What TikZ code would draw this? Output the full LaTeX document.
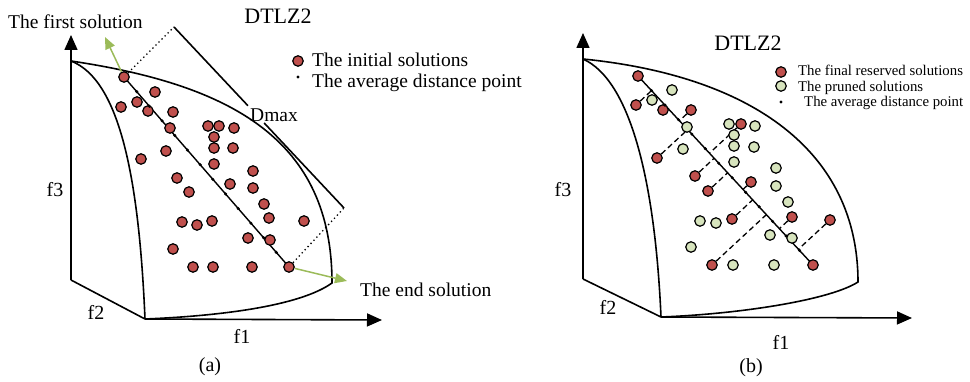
\documentclass[tikz,border=0pt]{standalone}
\usepackage{fontspec}
\setmainfont{Liberation Serif}
\usetikzlibrary{arrows.meta,calc,backgrounds}
\definecolor{solred}{HTML}{C0504D}
\definecolor{prungreen}{HTML}{D7E4BD}
\definecolor{arrgreen}{HTML}{9BBB59}

\begin{document}
\begin{tikzpicture}[x=1pt,y=-1pt,
    initial/.style={circle,draw,line width=1.2pt,fill=solred,minimum size=10.5pt,inner sep=0pt},
    pruned/.style={initial,fill=prungreen},
    avgpt/.style={circle,fill=black,minimum size=3.4pt,inner sep=0pt},
    surf/.style={line width=1.6pt},
    axis/.style={line width=1.6pt,-{Triangle[length=15pt,width=13pt]}},
    diag/.style={line width=1.4pt},
    prune/.style={line width=1.3pt,dash pattern=on 5.5pt off 3.5pt},
    gap/.style={line width=1.3pt,dash pattern=on 1.3pt off 3pt},
    pointer/.style={line width=1.5pt,draw=arrgreen,-{Triangle[length=12pt,width=10pt,fill=arrgreen]}},
    lab/.style={inner sep=0pt,anchor=base west,font=\fontsize{19.5}{22}\selectfont},
    key/.style={inner sep=0pt,anchor=base west,font=\fontsize{14.8}{17}\selectfont},
    axlab/.style={inner sep=0pt,font=\fontsize{20}{22}\selectfont},
    title/.style={inner sep=0pt,font=\fontsize{22}{24}\selectfont}
]
\useasboundingbox (0,0) rectangle (970,382);

% (a)
\coordinate (topa)  at (71,61);
\coordinate (backa) at (71,280);
\coordinate (bota)  at (145,319);
\coordinate (f3enda) at (71,35);
\coordinate (f1enda) at (382,320);
\draw[axis] (backa) -- (f3enda);
\draw[axis] (bota) -- (f1enda);
\draw[surf] (backa) -- (bota);
\draw[surf] (topa) .. controls (120,80) and (139,179) .. (bota);
\draw[surf] (topa) .. controls (232,85) and (332,140) .. (332,283)
                   .. controls (300,306) and (220,316) .. (bota);

\node[initial] (a1)  at (124,77)  {};
\node[initial] (a2)  at (155,92)  {};
\node[initial] (a3)  at (121,107) {};
\node[initial] (a4)  at (137,102) {};
\node[initial] (a5)  at (148,111) {};
\node[initial] (a6)  at (173,112) {};
\node[initial] (a7)  at (170,128) {};
\node[initial] (a8)  at (208,126) {};
\node[initial] (a9)  at (219,126) {};
\node[initial] (a10) at (234,128) {};
\node[initial] (a11) at (214,137) {};
\node[initial] (a12) at (214,148) {};
\node[initial] (a13) at (233,148) {};
\node[initial] (a14) at (166,151) {};
\node[initial] (a15) at (141,159) {};
\node[initial] (a16) at (214,164) {};
\node[initial] (a17) at (253,171) {};
\node[initial] (a18) at (177,178) {};
\node[initial] (a19) at (230,184) {};
\node[initial] (a20) at (189,192) {};
\node[initial] (a21) at (253,188) {};
\node[initial] (a22) at (264,204) {};
\node[initial] (a23) at (182,222) {};
\node[initial] (a24) at (197,225) {};
\node[initial] (a25) at (212,221) {};
\node[initial] (a26) at (269,218) {};
\node[initial] (a27) at (304,221) {};
\node[initial] (a28) at (248,238) {};
\node[initial] (a29) at (270,240) {};
\node[initial] (a30) at (173,249) {};
\node[initial] (a31) at (193,267) {};
\node[initial] (a32) at (213,267) {};
\node[initial] (a33) at (252,267) {};
\node[initial] (a34) at (289,267) {};
\foreach \k in {1,...,12}
  \node[avgpt] (ma\k) at ($(a1)!\k/13!(a34)$) {};

\coordinate (dmtop) at (174,27);
\coordinate (dmbot) at (344,208);
\coordinate (fsend) at (105,37);
\coordinate (esend) at (347,281);
\begin{scope}[on background layer]
\draw[diag] (a1.center) -- (a34.center);
\end{scope}
\draw[surf] (dmtop) -- ($(dmtop)!0.435!(dmbot)$);
\draw[surf] ($(dmtop)!0.53!(dmbot)$) -- (dmbot);
\draw[gap] (a1) -- (dmtop);
\draw[gap] (a34) -- (dmbot);
\draw[pointer] (a1) -- (fsend);
\draw[pointer] (a34) -- (esend);

\node[lab] (firsta) at (8,29) {The first solution};
\node[lab] (enda) at (360,297) {The end solution};
\node[lab] (dmax) at (250,122) {Dmax};
\node[title] (dtlza) at (278,16) {DTLZ2};
\node[initial] (keya1) at (298,61) {};
\node[lab] (keya1t) at (312,67) {The initial solutions};
\node[avgpt] (keya2) at (298,77) {};
\node[lab] (keya2t) at (312,88) {The average distance point};
\node[axlab] (f3a) at (55,190) {f3};
\node[axlab] (f2a) at (96,312) {f2};
\node[axlab] (f1a) at (242,336) {f1};
\node[axlab] (capa) at (210,367) {(a)};

% (b)
\coordinate (topb)  at (583,59);
\coordinate (backb) at (583,279);
\coordinate (botb)  at (661,317);
\coordinate (f3endb) at (583,33);
\coordinate (f1endb) at (912,318);
\draw[axis] (backb) -- (f3endb);
\draw[axis] (botb) -- (f1endb);
\draw[surf] (backb) -- (botb);
\draw[surf] (topb) .. controls (630,80) and (655,180) .. (botb);
\draw[surf] (topb) .. controls (753,76) and (858,152) .. (858,282)
                   .. controls (830,300) and (740,314) .. (botb);

\node[initial] (r1)  at (638,76)  {};
\node[initial] (r2)  at (636,105) {};
\node[initial] (r3)  at (663,110) {};
\node[initial] (r4)  at (691,110) {};
\node[initial] (r5)  at (741,124) {};
\node[initial] (r6)  at (657,158) {};
\node[initial] (r7)  at (695,176) {};
\node[initial] (r8)  at (708,191) {};
\node[initial] (r9)  at (751,182) {};
\node[initial] (r10) at (732,219) {};
\node[initial] (r11) at (792,217) {};
\node[initial] (r12) at (830,220) {};
\node[initial] (r13) at (712,265) {};
\node[initial] (r14) at (813,265) {};

\node[pruned] (p1)  at (672,90)  {};
\node[pruned] (p2)  at (652,100) {};
\node[pruned] (p3)  at (687,127) {};
\node[pruned] (p4)  at (729,124) {};
\node[pruned] (p5)  at (755,126) {};
\node[pruned] (p6)  at (734,135) {};
\node[pruned] (p7)  at (683,149) {};
\node[pruned] (p8)  at (734,146) {};
\node[pruned] (p9)  at (754,147) {};
\node[pruned] (p10) at (734,162) {};
\node[pruned] (p11) at (776,168) {};
\node[pruned] (p12) at (776,186) {};
\node[pruned] (p13) at (788,202) {};
\node[pruned] (p14) at (700,221) {};
\node[pruned] (p15) at (716,223) {};
\node[pruned] (p16) at (770,235) {};
\node[pruned] (p17) at (792,238) {};
\node[pruned] (p18) at (691,247) {};
\node[pruned] (p19) at (733,265) {};
\node[pruned] (p20) at (774,265) {};
\foreach \k in {1,...,12}
  \node[avgpt] (mb\k) at ($(r1)!\k/13!(r14)$) {};

\begin{scope}[on background layer]
\draw[diag] (r1.center) -- (r14.center);
\foreach \r in {r2,r4,r5,r6,r7,r8,r9,r10,r11,r12,r13}
  \draw[prune] (\r) -- ($(r1)!(\r)!(r14)$);
\end{scope}

\node[title] (dtlzb) at (748,43) {DTLZ2};
\node[initial] (keyb1) at (781,72) {};
\node[key] (keyb1t) at (798,76) {The final reserved solutions};
\node[pruned] (keyb2) at (781,86) {};
\node[key] (keyb2t) at (798,92) {The pruned solutions};
\node[avgpt] (keyb3) at (781,102) {};
\node[key] (keyb3t) at (804,107) {The average distance point};
\node[axlab] (f3b) at (563,190) {f3};
\node[axlab] (f2b) at (608,307) {f2};
\node[axlab] (f1b) at (781,342) {f1};
\node[axlab] (capb) at (751,368) {(b)};
\end{tikzpicture}
\end{document}
